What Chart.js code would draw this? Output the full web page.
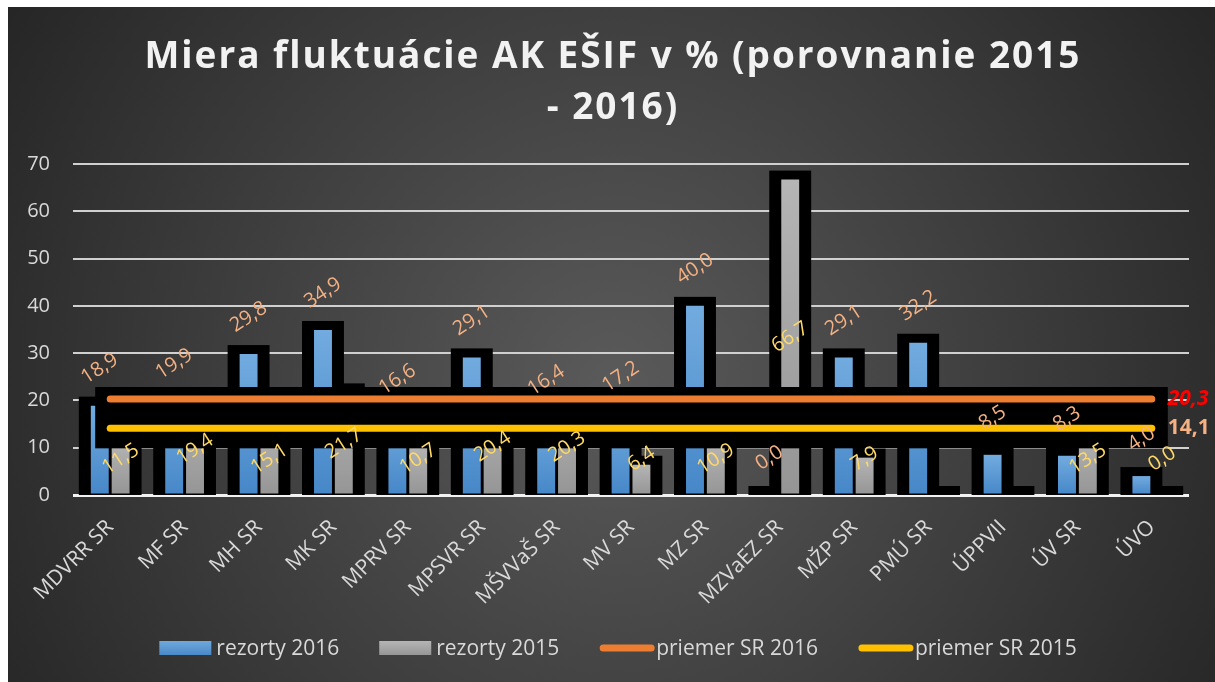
<!DOCTYPE html>
<html>
<head>
<meta charset="utf-8">
<script src="https://cdn.jsdelivr.net/npm/chart.js@4.4.1/dist/chart.umd.min.js"></script>
<style>
  html, body { margin: 0; padding: 0; background: #fff; }
  canvas { display: block; }
</style>
</head>
<body>
<canvas id="myChart" width="1215" height="682"></canvas>
<script>
// rezorty (kategórie)
var rezorty = ["MDVRR SR", "MF SR", "MH SR", "MK SR", "MPRV SR", "MPSVR SR", "MŠVVaŠ SR", "MV SR", "MZ SR", "MZVaEZ SR", "MŽP SR", "PMÚ SR", "ÚPPVII", "ÚV SR", "ÚVO"];
// miera fluktuácie 2016
var rezorty2016 = [18.9, 19.9, 29.8, 34.9, 16.6, 29.1, 16.4, 17.2, 40.0, 0.0, 29.1, 32.2, 8.5, 8.3, 4.0];
// miera fluktuácie 2015 (PMÚ SR, ÚPPVII bez údaja)
var rezorty2015 = [11.5, 19.4, 15.1, 21.7, 10.7, 20.4, 20.3, 6.4, 10.9, 66.7, 7.9, null, null, 13.5, 0.0];
// priemer SR
var priemer2016 = [20.3, 20.3, 20.3, 20.3, 20.3, 20.3, 20.3, 20.3, 20.3, 20.3, 20.3, 20.3, 20.3, 20.3, 20.3];
var priemer2015 = [14.1, 14.1, 14.1, 14.1, 14.1, 14.1, 14.1, 14.1, 14.1, 14.1, 14.1, 14.1, 14.1, 14.1, 14.1];
// os Y
var osY = [0, 10, 20, 30, 40, 50, 60, 70];

var nadpis = ["Miera fluktuácie AK EŠIF v % (porovnanie 2015", "- 2016)"];
var pismo = "'Open Sans', 'DejaVu Sans', sans-serif";
var sivaText = "#d9d9d9";

function cislo(v) {
  return v.toFixed(1).replace(".", ",");
}

// gradient pre kazdy stlpec zvlast (hore svetlejsie)
function gradient(hore, dole) {
  return function (c) {
    var chart = c.chart, y = chart.scales.y;
    if (!chart.chartArea || !y || c.raw == null) return dole;
    var y0 = y.getPixelForValue(0), y1 = y.getPixelForValue(c.raw);
    if (!(y0 > y1)) return dole;
    var g = chart.ctx.createLinearGradient(0, y1, 0, y0);
    g.addColorStop(0, hore);
    g.addColorStop(1, dole);
    return g;
  };
}

var kresba = {
  id: "kresba",
  beforeDraw: function (chart) {
    var ctx = chart.ctx;
    ctx.save();
    // pozadie
    ctx.fillStyle = "#fff";
    ctx.fillRect(0, 0, chart.width, chart.height);
    var g = ctx.createRadialGradient(612, 380, 0, 612, 380, 760);
    g.addColorStop(0, "#5a5a5a");
    g.addColorStop(1, "#222222");
    ctx.fillStyle = g;
    ctx.fillRect(8, 7, chart.width - 8, chart.height - 7);
    // nadpis
    ctx.fillStyle = "#f2f2f2";
    ctx.font = "bold 37px " + pismo;
    ctx.textAlign = "center";
    ctx.textBaseline = "alphabetic";
    var w0 = ctx.measureText(nadpis[0]).width;
    var medzera = Math.max(0, Math.min(4, (935 - w0) / (nadpis[0].length - 1)));
    ctx.letterSpacing = medzera + "px";
    ctx.fillText(nadpis[0], 612 + medzera / 2, 68);
    ctx.fillText(nadpis[1], 612 + medzera / 2, 119);
    ctx.restore();
  },
  beforeDatasetsDraw: function (chart) {
    // cierne okraje stlpcov
    var ctx = chart.ctx, y = chart.scales.y, base = y.getPixelForValue(0);
    ctx.save();
    ctx.fillStyle = "#000";
    [0, 1].forEach(function (di) {
      var meta = chart.getDatasetMeta(di);
      var data = chart.data.datasets[di].data;
      meta.data.forEach(function (el, i) {
        var top = data[i] == null ? base : el.y;
        ctx.fillRect(el.x - el.width / 2 - 12, top - 9, el.width + 24, base - top + 9);
      });
    });
    ctx.restore();
    chart.$pas = false;
  },
  beforeDatasetDraw: function (chart, args) {
    if (args.meta.type !== "line" || chart.$pas) return;
    chart.$pas = true;
    // cierny pas za priemermi
    var a = chart.getDatasetMeta(2).data, b = chart.getDatasetMeta(3).data;
    var ctx = chart.ctx;
    ctx.save();
    ctx.fillStyle = "#000";
    var x0 = a[0].x - 15, x1 = a[a.length - 1].x + 16;
    ctx.fillRect(x0, a[0].y - 12, x1 - x0, b[0].y + 20 - (a[0].y - 12));
    ctx.restore();
  },
  afterDatasetsDraw: function (chart) {
    var ctx = chart.ctx, y = chart.scales.y, base = y.getPixelForValue(0);
    ctx.save();
    ctx.font = "20px " + pismo;
    ctx.textAlign = "center";
    ctx.textBaseline = "middle";
    var uhol = -33 * Math.PI / 180;
    // hodnoty 2016 nad stlpcom
    chart.getDatasetMeta(0).data.forEach(function (el, i) {
      var v = rezorty2016[i];
      if (v == null) return;
      ctx.save();
      ctx.translate(el.x, el.y - 37);
      ctx.rotate(uhol);
      ctx.fillStyle = "#f4b183";
      ctx.fillText(cislo(v), 0, 0);
      ctx.restore();
    });
    // hodnoty 2015 v strede stlpca
    chart.getDatasetMeta(1).data.forEach(function (el, i) {
      var v = rezorty2015[i];
      if (v == null) return;
      var yy = Math.min((el.y + base) / 2, base - 36);
      ctx.save();
      ctx.translate(el.x, yy);
      ctx.rotate(uhol);
      ctx.fillStyle = "#ffd966";
      ctx.fillText(cislo(v), 0, 0);
      ctx.restore();
    });
    // hodnoty priemerov vpravo
    var a = chart.getDatasetMeta(2).data, b = chart.getDatasetMeta(3).data;
    ctx.textAlign = "left";
    ctx.font = "italic bold 21px " + pismo;
    ctx.fillStyle = "#ff0000";
    ctx.fillText(cislo(priemer2016[priemer2016.length - 1]), a[a.length - 1].x + 16, a[a.length - 1].y);
    ctx.font = "bold 21px " + pismo;
    ctx.fillStyle = "#f4b183";
    ctx.fillText(cislo(priemer2015[priemer2015.length - 1]), b[b.length - 1].x + 16, b[b.length - 1].y);
    ctx.restore();
  },
  afterDraw: function (chart) {
    // legenda
    var ctx = chart.ctx, ds = chart.data.datasets;
    ctx.save();
    ctx.font = "21px " + pismo;
    ctx.textBaseline = "middle";
    ctx.textAlign = "left";
    var polozky = ds.map(function (d) { return { text: d.label, w: 52 + 5 + ctx.measureText(d.label).width, d: d }; });
    var spolu = polozky.reduce(function (s, p) { return s + p.w; }, 0) + 40 * (polozky.length - 1);
    var x = 618 - spolu / 2, yc = 648;
    polozky.forEach(function (p, i) {
      if (i < 2) {
        var g = ctx.createLinearGradient(0, yc - 7, 0, yc + 7);
        g.addColorStop(0, i === 0 ? "#6fa8dc" : "#b5b5b5");
        g.addColorStop(1, i === 0 ? "#4a89c8" : "#969696");
        ctx.fillStyle = g;
        ctx.fillRect(x, yc - 7, 52, 14);
      } else {
        ctx.strokeStyle = p.d.borderColor;
        ctx.lineWidth = 7;
        ctx.lineCap = "round";
        ctx.beginPath();
        ctx.moveTo(x + 4, yc);
        ctx.lineTo(x + 52, yc);
        ctx.stroke();
      }
      ctx.fillStyle = sivaText;
      ctx.fillText(p.text, x + 57, yc + 1);
      x += p.w + 40;
    });
    ctx.restore();
  }
};

var ctx = document.getElementById("myChart");

var myChart = new Chart(ctx, {
  type: "bar",
  data: {
    labels: rezorty,
    datasets: [
      {
        label: "rezorty 2016",
        data: rezorty2016,
        backgroundColor: gradient("#72abdf", "#4687c8"),
        categoryPercentage: 0.56,
        barPercentage: 0.86,
        order: 1
      },
      {
        label: "rezorty 2015",
        data: rezorty2015,
        backgroundColor: gradient("#b5b5b5", "#959595"),
        categoryPercentage: 0.56,
        barPercentage: 0.86,
        order: 1
      },
      {
        type: "line",
        label: "priemer SR 2016",
        data: priemer2016,
        borderColor: "#ed7d31",
        backgroundColor: "#ed7d31",
        borderWidth: 7,
        borderCapStyle: "round",
        pointRadius: 0,
        order: 0
      },
      {
        type: "line",
        label: "priemer SR 2015",
        data: priemer2015,
        borderColor: "#ffc000",
        backgroundColor: "#ffc000",
        borderWidth: 7,
        borderCapStyle: "round",
        pointRadius: 0,
        order: 0
      }
    ]
  },
  options: {
    responsive: false,
    animation: false,
    layout: { padding: { left: 8, right: 26, top: 164, bottom: 67 } },
    plugins: {
      legend: { display: false },
      title: { display: false },
      tooltip: { enabled: false }
    },
    scales: {
      x: {
        afterFit: function (s) { s.height = 120; },
        grid: { display: false },
        border: { display: false },
        ticks: {
          autoSkip: false,
          maxRotation: 45,
          minRotation: 45,
          padding: 12,
          color: sivaText,
          font: { family: pismo, size: 21 }
        }
      },
      y: {
        min: osY[0],
        max: osY[osY.length - 1],
        afterFit: function (s) { s.width = 65; },
        border: { display: false },
        grid: {
          drawTicks: false,
          color: function (c) { return c.tick && c.tick.value === 0 ? "#f2f2f2" : "#d0d0d0"; },
          lineWidth: function (c) { return c.tick && c.tick.value === 0 ? 3 : 2; }
        },
        ticks: {
          stepSize: osY[1] - osY[0],
          padding: 23,
          color: sivaText,
          font: { family: pismo, size: 20 }
        }
      }
    }
  },
  plugins: [kresba]
});
</script>
</body>
</html>
